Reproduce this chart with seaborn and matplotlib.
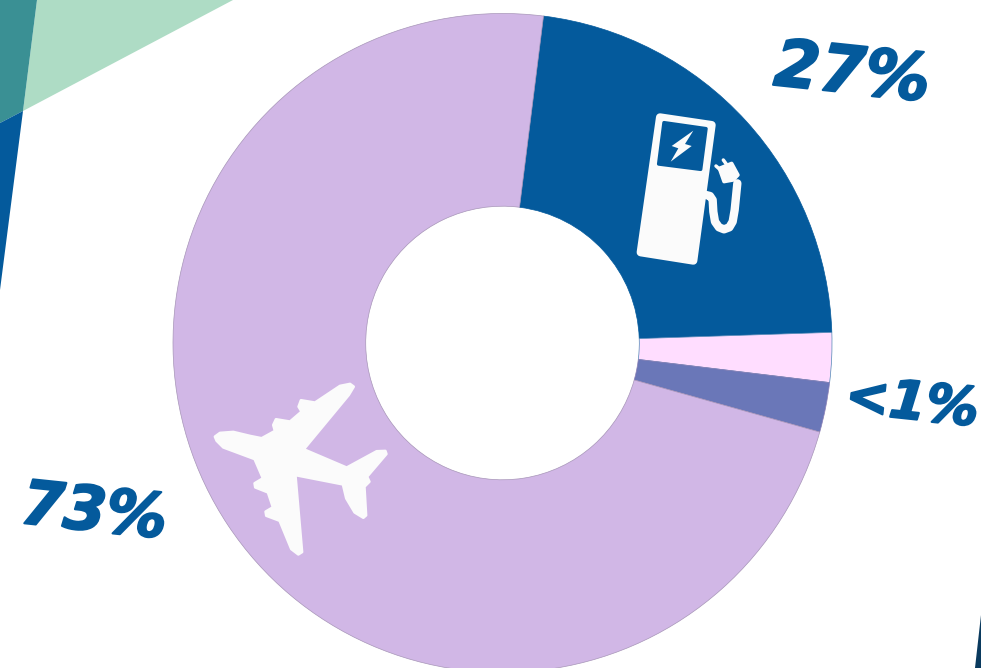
import matplotlib
matplotlib.use('Agg')
import matplotlib.pyplot as plt
import matplotlib.patheffects as pe
import seaborn as sns
from matplotlib.lines import Line2D
from matplotlib.patches import Polygon
from matplotlib.transforms import Affine2D

categories = ['charging', 'pink', 'periwinkle', 'flights']
shares = [22.5, 2.43, 2.44, 72.63]
colors = ['#045A9C', '#FFDDFF', '#6A77B8', '#D1B7E6']
edge_colors = ['#045A9C', '#4F86B4', '#8A7FB5', '#A795B8']

label_texts = ['27%', '<1%', '73%']
label_centers = [(852, 75), (912, 404), (94, 514)]
label_sizes = [47, 38, 44]

W, H = 981, 668
WHITE = '#FBFBFB'

sns.set_theme(style='white')
fig = plt.figure(figsize=(W / 100, H / 100), dpi=100, facecolor='white')

# pixel coordinates, origin top left
px = Affine2D().scale(1 / W, -1 / H).translate(0, 1) + fig.transFigure


def zoomed(points, x0, y0):
    return [(x / 3 + x0, y / 3 + y0) for x, y in points]


def shape(points, color, z, lw=0.0):
    fig.add_artist(Polygon(points, closed=True, facecolor=color, edgecolor=color,
                           linewidth=lw, joinstyle='round', transform=px, zorder=z))


def stroke(points, color, z, lw):
    xs, ys = zip(*points)
    fig.add_artist(Line2D(xs, ys, color=color, linewidth=lw, solid_capstyle='round',
                          solid_joinstyle='round', transform=px, zorder=z))


# corner shapes behind the ring
shape([(37, 0), (233, 0), (23, 111)], '#AEDCC5', -2)
shape([(0, 0), (37, 0), (23, 111), (0, 123)], '#3A9094', -2)
shape([(0, 123), (23, 111), (0, 290)], '#045A9C', -2)
shape([(981, 615), (975, 668), (981, 668)], '#0A3A5E', -2)

# ring
radius = 329.5
cx, cy = 502.5, 343
ax = fig.add_axes([(cx - radius) / W, 1 - (cy + radius) / H, 2 * radius / W, 2 * radius / H])
ax.patch.set_alpha(0)
wedges, _ = ax.pie(shares, colors=sns.color_palette(colors), startangle=82.85, counterclock=False,
                   radius=1, wedgeprops={'width': 193 / 330})
for wedge, edge in zip(wedges, edge_colors):
    wedge.set_edgecolor(edge)
    wedge.set_linewidth(0.5)
ax.set_xlim(-1, 1)
ax.set_ylim(-1, 1)
ax.set_aspect('equal')
ax.axis('off')

# plane icon
plane = [(645, 200), (660, 189), (700, 186), (750, 198), (785, 205), (825, 183), (820, 165), (828, 148),
         (870, 155), (905, 125), (896, 110), (903, 91), (945, 98), (1020, 48), (1050, 42), (1061, 50),
         (1046, 75), (911, 238), (1040, 293), (1130, 244), (1156, 243), (1159, 252), (1101, 320),
         (1108, 335), (1093, 350), (1098, 436), (1090, 443), (1064, 427), (1039, 385), (1029, 343),
         (886, 315), (906, 546), (895, 553), (874, 537), (839, 452), (799, 437), (797, 425), (819, 412),
         (804, 367), (766, 352), (764, 340), (789, 325), (764, 267), (670, 232), (650, 212)]
shape(zoomed(plane, 0, 370), WHITE, 5, lw=2.0)

# pump icon
shape(zoomed([(120, 292), (275, 315), (220, 722), (62, 697)], 620, 20), WHITE, 5, lw=5.8)
shape(zoomed([(132, 308), (258, 326), (242, 448), (116, 432)], 620, 20), '#045A9C', 6, lw=2.5)
shape(zoomed([(220, 332), (195, 372), (215, 378), (152, 425), (175, 385), (155, 378)], 620, 20), WHITE, 7)
stroke(zoomed([(258, 525), (270, 528), (278, 540), (280, 575), (285, 605), (297, 622), (312, 628),
               (328, 622), (338, 605), (344, 570), (352, 490)], 620, 20), WHITE, 5, 6.0)
shape(zoomed([(298, 445), (335, 430), (354, 465), (340, 480), (312, 485)], 620, 20), WHITE, 5, lw=2.5)
stroke(zoomed([(310, 420), (326, 442)], 620, 20), WHITE, 5, 2.5)
stroke(zoomed([(288, 438), (304, 452)], 620, 20), WHITE, 5, 2.5)

# percent labels
for text, (x, y), size in zip(label_texts, label_centers, label_sizes):
    label = fig.text(x / W, 1 - y / H, text, color='#045A9C', fontsize=size, fontweight='bold', style='italic',
                     family='DejaVu Sans', rotation=-6, ha='center', va='center', zorder=8)
    label.set_path_effects([pe.withStroke(linewidth=1.5, foreground='#045A9C')])

fig.savefig('out.png', dpi=100)
